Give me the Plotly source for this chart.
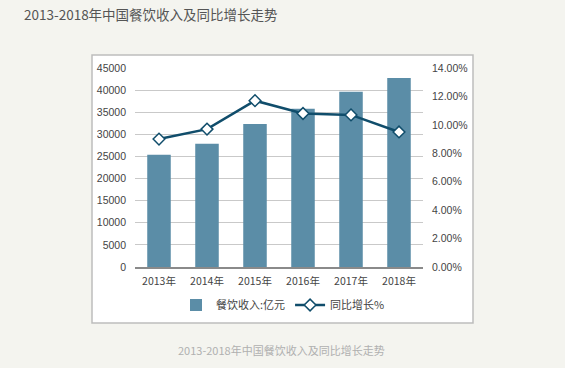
import plotly.graph_objects as go

years = ["2013年", "2014年", "2015年", "2016年", "2017年", "2018年"]
revenue = [25392, 27860, 32310, 35799, 39644, 42716]
growth = [0.090, 0.097, 0.117, 0.108, 0.107, 0.095]
left_ticks = list(range(0, 45001, 5000))
right_ticks = [0, 0.02, 0.04, 0.06, 0.08, 0.10, 0.12, 0.14]

W, H = 565, 368
L, R, T, B = 135, 423, 68, 267
pw, ph = R - L, B - T

def px(x):
    return (x - L) / pw

def py(y):
    return (B - y) / ph

fig = go.Figure()
fig.add_trace(go.Bar(
    x=years, y=revenue, name="餐饮收入:亿元",
    marker=dict(color="#5b8da7", line=dict(width=0)),
    width=0.49, yaxis="y"))
fig.add_trace(go.Scatter(
    x=years, y=growth, name="同比增长%", yaxis="y2",
    mode="lines+markers",
    line=dict(color="#104d6b", width=2.5),
    marker=dict(symbol="diamond", size=9, color="white",
                line=dict(color="#104d6b", width=1.5))))

font_cjk = "Noto Sans CJK SC, Liberation Sans, Arial, sans-serif"
tickfont = dict(family="Liberation Sans, Arial, sans-serif", size=10.5, color="#444")

fig.update_layout(
    width=W, height=H,
    margin=dict(l=L, r=W - R, t=T, b=H - B, pad=0),
    paper_bgcolor="#f4f4ef",
    plot_bgcolor="white",
    bargap=0.51,
    showlegend=True,
    legend=dict(orientation="h", x=px(283), xanchor="center", y=py(305), yanchor="middle",
                font=dict(family=font_cjk, size=11, color="#444"),
                bgcolor="rgba(0,0,0,0)", itemwidth=30, traceorder="normal"),
    xaxis=dict(type="category", showgrid=False, showline=True, linecolor="#8a8a8a", linewidth=1.5,
               ticks="", tickfont=dict(family=font_cjk, size=10.5, color="#444"),
               ticklabelstandoff=4),
    yaxis=dict(range=[0, 45000], tickvals=left_ticks, ticktext=[str(v) for v in left_ticks],
               showgrid=True, gridcolor="#c9c9c9", gridwidth=1, zeroline=False,
               showline=False, ticks="", tickfont=tickfont, ticklabelstandoff=8),
    yaxis2=dict(range=[0, 0.14], tickvals=right_ticks, tickformat=".2%", overlaying="y",
                side="right", showgrid=False, zeroline=False, showline=False, ticks="",
                tickfont=tickfont, ticklabelstandoff=8),
    shapes=[dict(type="rect", xref="paper", yref="paper", layer="below",
                 x0=px(92), x1=px(473), y0=py(323), y1=py(55),
                 fillcolor="white", line=dict(color="#bdbdbd", width=1.5))],
    annotations=[
        dict(text="2013-2018年中国餐饮收入及同比增长走势", xref="paper", yref="paper",
             x=px(22), y=py(14), xanchor="left", yanchor="middle", showarrow=False,
             font=dict(family=font_cjk, size=13.5, color="#555")),
        dict(text="2013-2018年中国餐饮收入及同比增长走势", xref="paper", yref="paper",
             x=px(281), y=py(350), xanchor="center", yanchor="middle", showarrow=False,
             font=dict(family=font_cjk, size=11, color="#b0b0b0")),
    ],
)

fig.write_html("out.html", config={"displayModeBar": False},
               post_script="document.body.style.margin='0';document.body.style.background='#f4f4ef';")
